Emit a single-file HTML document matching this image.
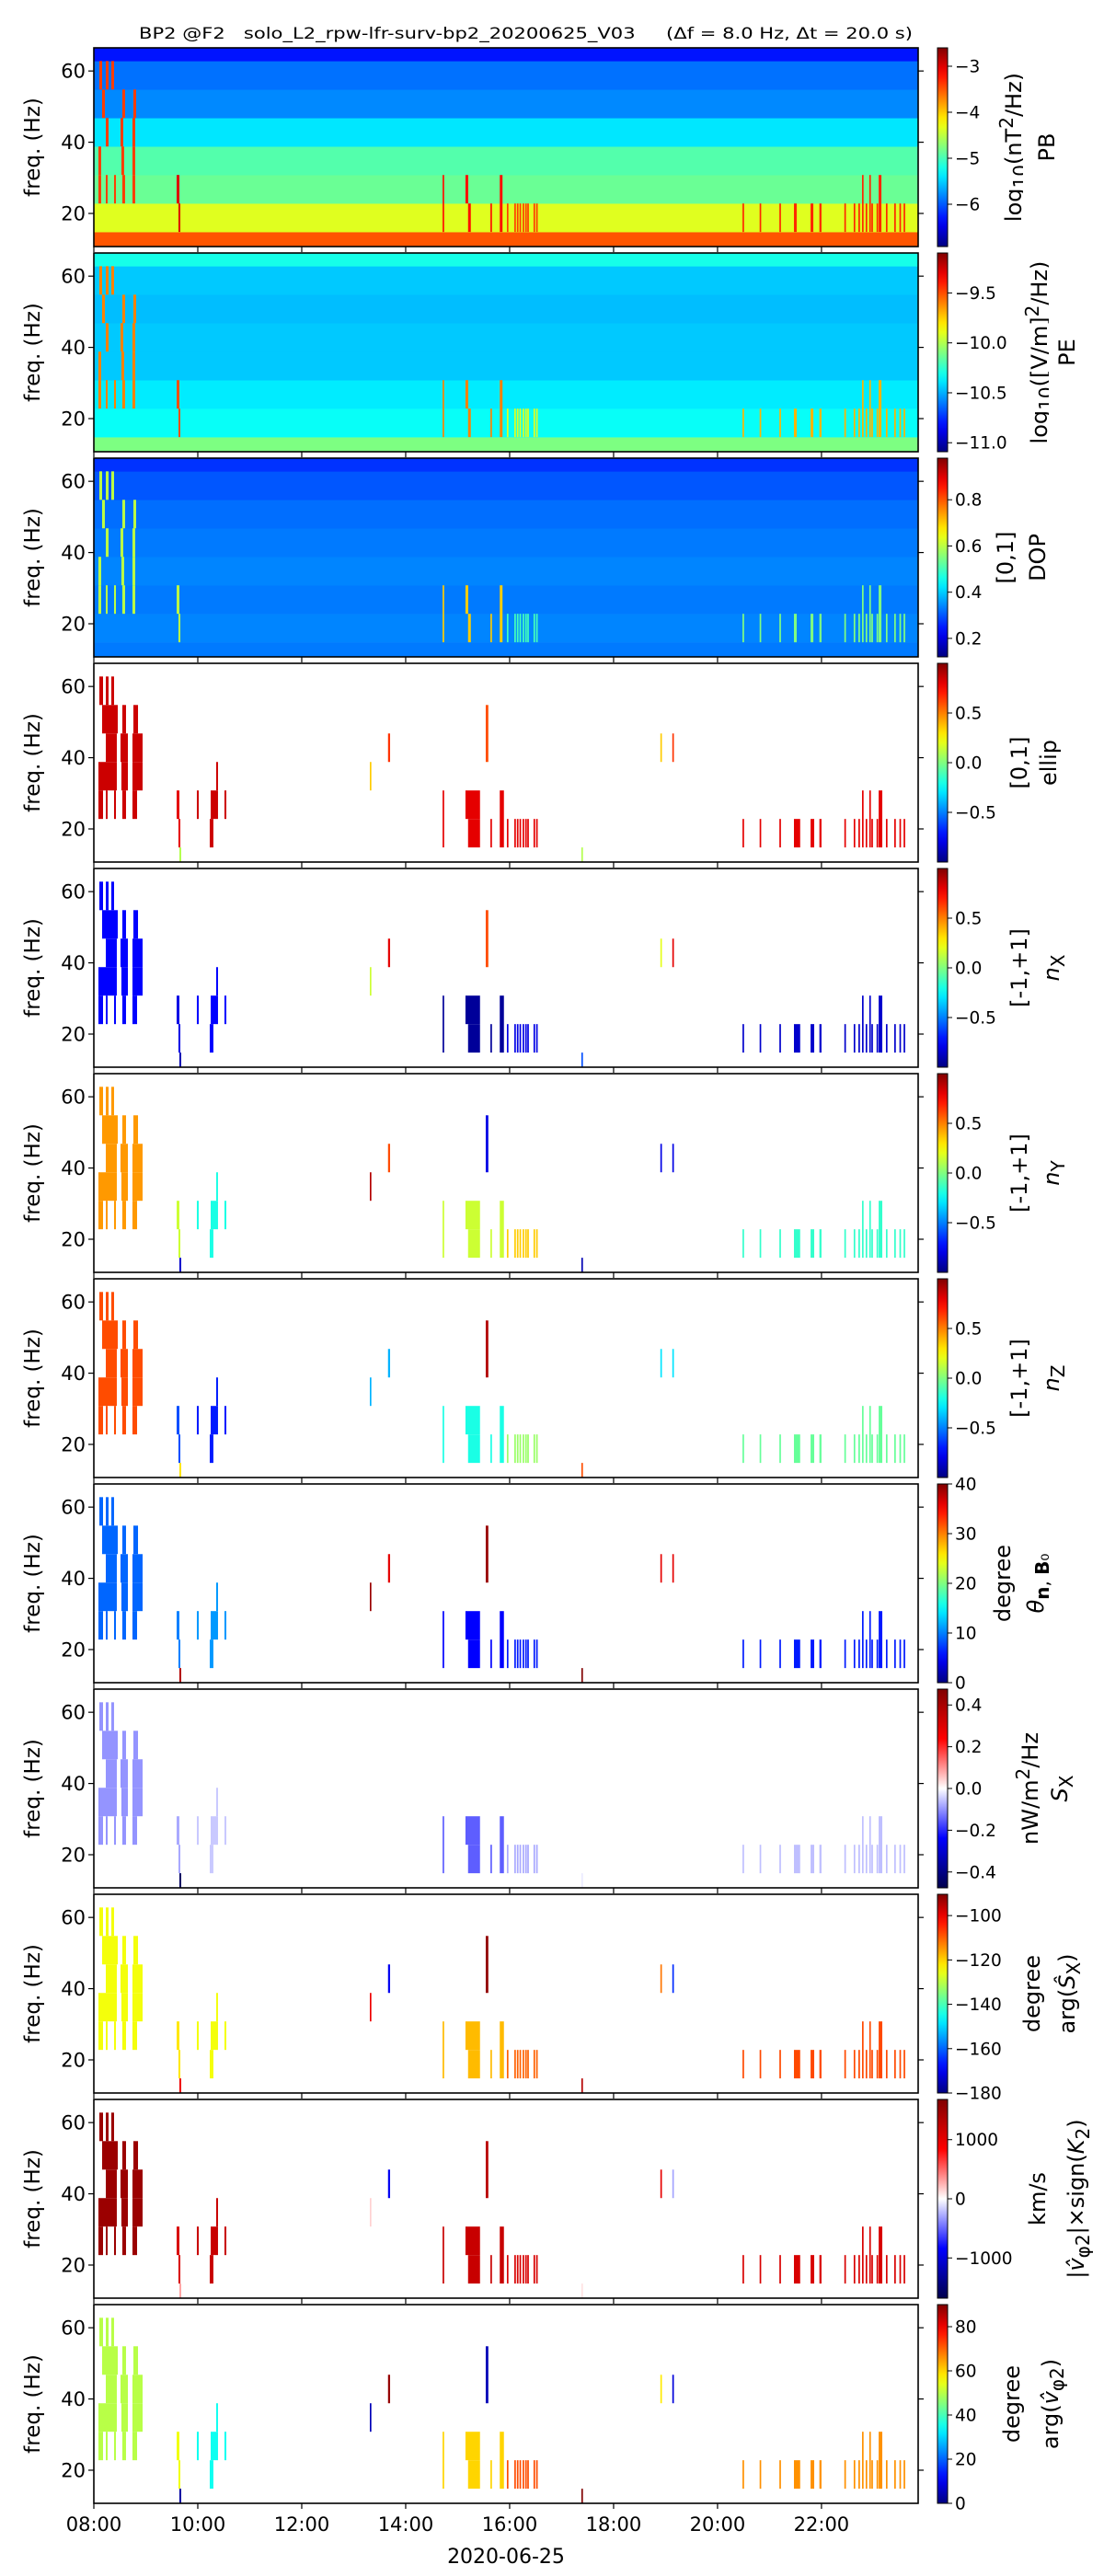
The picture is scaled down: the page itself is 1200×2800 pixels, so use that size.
<!DOCTYPE html>
<html><head><meta charset="utf-8"><style>
html,body{margin:0;padding:0;background:#fff;}
svg{display:block;font-family:"DejaVu Sans","Liberation Sans",sans-serif;}
</style></head><body>
<svg id="fig" width="1200" height="2800" viewBox="0 0 1200 2800" xmlns="http://www.w3.org/2000/svg">
<text x="151" y="42" font-size="17" textLength="841" lengthAdjust="spacingAndGlyphs" xml:space="preserve">BP2 @F2   solo_L2_rpw-lfr-surv-bp2_20200625_V03     (Δf = 8.0 Hz, Δt = 20.0 s)</text>
</svg>
<script>
// ---- data ----
const bandEdges = [10.7,14.8,22.8,30.8,38.8,46.8,54.8,62.8,66.5];
const hourTicks = [8,10,12,14,16,18,20,22];
const hourTickLabels = ["08:00","10:00","12:00","14:00","16:00","18:00","20:00","22:00"];
const freqTicks = [20,40,60];
const groups = ["A","B","B0","C","D1","D2","E","F","G","H","I1","I2","J"];
// sparse bars: start hour, end hour, low band, high band, group
const barT0 = [8.106,8.23,8.336, 8.159,8.548,8.761, 8.23,8.513,8.743, 8.088,8.53,8.743, 8.088,8.23,8.389,8.548,8.743,
 9.593,9.628,9.646, 9.982,10.354,10.248,10.23,10.513, 13.31,13.66,
 14.71,15.15,15.2,15.63,15.81, 15.54,
 15.947,16.09,16.14,16.19,16.25,16.30,16.34,16.46,16.51, 17.38, 18.90,19.13,
 20.48,20.81,21.19,21.47,21.79,21.96,22.44,22.62,22.71,22.78,22.85,22.92,22.96,23.06,23.10,23.24,23.40,23.50,23.58];
const barT1 = [8.177,8.283,8.389, 8.46,8.619,8.85, 8.442,8.655,8.938, 8.442,8.655,8.938, 8.177,8.265,8.425,8.619,8.832,
 9.646,9.664,9.681, 10.018,10.389,10.389,10.30,10.549, 13.34,13.70,
 14.74,15.43,15.43,15.66,15.89, 15.59,
 15.977,16.12,16.17,16.22,16.28,16.33,16.37,16.49,16.54, 17.41, 18.93,19.16,
 20.51,20.84,21.22,21.59,21.86,22.0,22.47,22.65,22.74,22.81,22.88,22.95,22.99,23.09,23.17,23.27,23.43,23.53,23.61];
const barLo = [6,6,6, 5,5,5, 4,4,4, 3,3,3, 2,2,2,2,2,
 2,1,0, 2,3,2,1,2, 3,4,
 1,2,1,1,1, 4,
 1,1,1,1,1,1,1,1,1, 0, 4,4,
 1,1,1,1,1,1,1,1,1,1,1,1,1,1,1,1,1,1,1];
const barHi = [6,6,6, 5,5,5, 4,4,4, 3,3,3, 2,2,2,2,2,
 2,1,0, 2,3,2,1,2, 3,4,
 2,2,1,1,2, 5,
 1,1,1,1,1,1,1,1,1, 0, 4,4,
 1,1,1,1,1,1,1,1,1,2,1,2,1,1,2,1,1,1,1];
const barGrp = ["A","A","A","A","A","A","A","A","A","A","A","A","A","A","A","A","A",
 "B","B","B0","C","C","C","C","C","D1","D2",
 "E","E","E","E","E","F",
 "G","G","G","G","G","G","G","G","G","H","I1","I2",
 "J","J","J","J","J","J","J","J","J","J","J","J","J","J","J","J","J","J","J"];
// per-panel group values (order = groups)
const ellipVals = [0.85,0.8,0.1,0.85,0.35,0.65,0.8,0.6,0.8,0.1,0.35,0.65,0.8];
const nxVals    = [-0.75,-0.8,-0.9,-0.75,0.15,0.8,-0.95,0.6,-0.8,-0.6,0.2,0.8,-0.85];
const nyVals    = [0.45,0.15,-0.85,-0.2,0.9,0.6,0.15,-0.8,0.35,-0.9,-0.8,-0.8,-0.15];
const nzVals    = [0.6,-0.6,0.3,-0.7,-0.4,-0.4,-0.2,0.9,0.05,0.6,-0.3,-0.3,-0.05];
const thetaVals = [9,10,38,11,39,36,5,39,6,40,36,36,6];
const sxVals    = [-0.1,-0.08,-0.45,-0.05,0,0,-0.15,0,-0.08,-0.02,0,0,-0.06];
const argSxVals = [-125,-122,-100,-125,-100,-170,-118,-92,-110,-95,-112,-165,-108];
const vVals     = [1500,1100,300,1200,150,-900,1200,1300,1100,100,1000,-300,1100];
const argVVals  = [50,55,3,35,5,88,60,5,72,90,58,8,66];
// dense panels: base level per band (bottom to top)
const pbBase  = [-3.5,-4.35,-4.85,-4.95,-5.4,-5.8,-5.9,-6.3];
const peBase  = [-10.1,-10.33,-10.38,-10.45,-10.45,-10.47,-10.45,-10.3];
const dopBase = [0.33,0.34,0.33,0.34,0.33,0.32,0.3,0.27];
const pbSpike  = [-3.4,-3.0,-3.0,-3.2,-3.2,-3.3,-3.2,-3.4,-3.4,-3.4,-3.5,-3.5,-3.3];
const peSpike  = [-9.6,-9.5,-10.0,-9.8,-10.2,-10.2,-9.6,-10.0,-9.9,-9.6,-10.2,-10.2,-9.7];
const dopSpike = [0.6,0.6,0.6,0.55,0.55,0.55,0.7,0.6,0.5,0.6,0.55,0.55,0.55];
// colour-bar ticks
const pbTicks=[-3,-4,-5,-6], peTicks=[-9.5,-10.0,-10.5,-11.0], dopTicks=[0.2,0.4,0.6,0.8],
 unitTicks=[-0.5,0.0,0.5], thetaTicks=[0,10,20,30,40], sxTicks=[-0.4,-0.2,0.0,0.2,0.4],
 argSxTicks=[-180,-160,-140,-120,-100], vTicks=[-1000,0,1000], argVTicks=[0,20,40,60,80];

// ---- geometry ----
const NS="http://www.w3.org/2000/svg";
const svg=document.getElementById('fig');
const X0=102,X1=998,H0=8,H1=23.86,PH=216;
const xs=h=>X0+(h-H0)/(H1-H0)*(X1-X0);
function el(tag,attrs,parent){const e=document.createElementNS(NS,tag);for(const k in attrs)e.setAttribute(k,attrs[k]);(parent||svg).appendChild(e);return e;}
function jet(t){t=Math.max(0,Math.min(1,t));
 const r=Math.max(0,Math.min(1,Math.min(4*t-1.5,-4*t+4.5)));
 const g=Math.max(0,Math.min(1,Math.min(4*t-0.5,-4*t+3.5)));
 const b=Math.max(0,Math.min(1,Math.min(4*t+0.5,-4*t+2.5)));
 return `rgb(${Math.round(r*255)},${Math.round(g*255)},${Math.round(b*255)})`;}
function seismic(t){t=Math.max(0,Math.min(1,t));const s=[[0,0,0,0.3],[0.25,0,0,1],[0.5,1,1,1],[0.75,1,0,0],[1,0.5,0,0]];
 for(let i=0;i<4;i++){if(t<=s[i+1][0]){const f=(t-s[i][0])/(s[i+1][0]-s[i][0]);const c=[1,2,3].map(j=>Math.round(255*(s[i][j]+f*(s[i+1][j]-s[i][j]))));return `rgb(${c})`;}}return 'rgb(128,0,0)';}

const panels=[
 {name:'pb',type:'dense',base:pbBase,spike:pbSpike,vmin:-6.92,vmax:-2.6,cmap:jet,ticks:pbTicks,dec:0,l1:'log<sub>10</sub>(nT<sup>2</sup>/Hz)',l2:'PB',lx:[1094,1138]},
 {name:'pe',type:'dense',base:peBase,spike:peSpike,vmin:-11.09,vmax:-9.1,cmap:jet,ticks:peTicks,dec:1,l1:'log<sub>10</sub>([V/m]<sup>2</sup>/Hz)',l2:'PE',lx:[1122,1160]},
 {name:'dop',type:'dense',base:dopBase,spike:dopSpike,vmin:0.12,vmax:0.98,cmap:jet,ticks:dopTicks,dec:1,l1:'[0,1]',l2:'DOP',lx:[1093,1128]},
 {name:'ellip',type:'sparse',vals:ellipVals,vmin:-1,vmax:1,cmap:jet,ticks:unitTicks,dec:1,l1:'[0,1]',l2:'ellip',lx:[1108,1140]},
 {name:'nx',type:'sparse',vals:nxVals,vmin:-1,vmax:1,cmap:jet,ticks:unitTicks,dec:1,l1:'[-1,+1]',l2:'<i>n</i><sub>X</sub>',lx:[1108,1143]},
 {name:'ny',type:'sparse',vals:nyVals,vmin:-1,vmax:1,cmap:jet,ticks:unitTicks,dec:1,l1:'[-1,+1]',l2:'<i>n</i><sub>Y</sub>',lx:[1108,1143]},
 {name:'nz',type:'sparse',vals:nzVals,vmin:-1,vmax:1,cmap:jet,ticks:unitTicks,dec:1,l1:'[-1,+1]',l2:'<i>n</i><sub>Z</sub>',lx:[1108,1143]},
 {name:'theta',type:'sparse',vals:thetaVals,vmin:0,vmax:40,cmap:jet,ticks:thetaTicks,dec:0,l1:'degree',l2:'<i>θ</i><sub><b>n</b>, <b>B</b>₀</sub>',lx:[1090,1126]},
 {name:'sx',type:'sparse',vals:sxVals,vmin:-0.476,vmax:0.476,cmap:seismic,ticks:sxTicks,dec:1,l1:'nW/m<sup>2</sup>/Hz',l2:'<i>S</i><sub>X</sub>',lx:[1112,1152]},
 {name:'argsx',type:'sparse',vals:argSxVals,vmin:-180,vmax:-90.4,cmap:jet,ticks:argSxTicks,dec:0,l1:'degree',l2:'arg(<i>Ŝ</i><sub>X</sub>)',lx:[1122,1160]},
 {name:'v',type:'sparse',vals:vVals,vmin:-1680,vmax:1680,cmap:seismic,ticks:vTicks,dec:0,l1:'km/s',l2:'|<i>v̂</i><sub>φ2</sub>|×sign(<i>K</i><sub>2</sub>)',lx:[1128,1170]},
 {name:'argv',type:'sparse',vals:argVVals,vmin:0,vmax:90,cmap:jet,ticks:argVTicks,dec:0,l1:'degree',l2:'arg(<i>v̂</i><sub>φ2</sub>)',lx:[1100,1142]}
];

panels.forEach((p,pi)=>{
 const top=52+pi*223, bot=top+PH;
 const fy=f=>top+(bandEdges[8]-f)/(bandEdges[8]-bandEdges[0])*PH;
 const col=v=>p.cmap((v-p.vmin)/(p.vmax-p.vmin));
 const g=el('g',{});
 
 
 if(p.type==='dense'){
  p.base.forEach((v,b)=>{
   const r=el('rect',{x:X0,y:fy(bandEdges[b+1]),width:X1-X0,height:fy(bandEdges[b])-fy(bandEdges[b+1])+0.3,fill:col(v)},g);
   
   
  });
  barT0.forEach((t0,i)=>{
   const gi=groups.indexOf(barGrp[i]);
   if(["A","B","E","G","J"].indexOf(barGrp[i])<0) return;
   const lo=barGrp[i]==='J'||barGrp[i]==='G'?1:barLo[i], hi=barHi[i];
   const w=Math.min(3,Math.max(1.5,xs(barT1[i])-xs(t0)));
   const r=el('rect',{x:xs(t0),y:fy(bandEdges[hi+1]),width:w,height:fy(bandEdges[lo])-fy(bandEdges[hi+1]),fill:col(p.spike[gi])},g);
   
   
  });
 } else {
  barT0.forEach((t0,i)=>{
   const gi=groups.indexOf(barGrp[i]);
   const r=el('rect',{x:xs(t0),y:fy(bandEdges[barHi[i]+1]),width:Math.max(1.6,xs(barT1[i])-xs(t0)),height:fy(bandEdges[barLo[i]])-fy(bandEdges[barHi[i]+1]),fill:col(p.vals[gi])},g);
   
   
  });
 }
 const fr=el('rect',{x:X0,y:top,width:X1-X0,height:PH,fill:'none',stroke:'#000','stroke-width':1.6});
 
 
 freqTicks.forEach(f=>{
  el('line',{x1:X0-6,x2:X0,y1:fy(f),y2:fy(f),stroke:'#000','stroke-width':1.2});
  el('line',{x1:X1,x2:X1+6,y1:fy(f),y2:fy(f),stroke:'#000','stroke-width':1.2});
  const t=el('text',{x:X0-9,y:fy(f)+7.5,'font-size':21,'text-anchor':'end'});
  
  
  t.textContent=f;
 });
 hourTicks.forEach(h=>{el('line',{x1:xs(h),x2:xs(h),y1:bot,y2:bot+6,stroke:'#000','stroke-width':1.2});});
 const yl=el('text',{x:0,y:0,'font-size':23,'text-anchor':'middle',transform:`translate(43,${top+PH/2}) rotate(-90)`});
 
 
 yl.textContent='freq. (Hz)';
 const gid='cg'+pi;
 const lg=el('linearGradient',{id:gid,x1:0,y1:1,x2:0,y2:0});
 for(let k=0;k<=20;k++) el('stop',{offset:k/20,'stop-color':p.cmap(k/20)},lg);
 const cb=el('rect',{x:1019,y:top,width:11,height:PH,fill:`url(#${gid})`,stroke:'#000','stroke-width':1});
 
 
 const cy=v=>bot-(v-p.vmin)/(p.vmax-p.vmin)*PH;
 p.ticks.forEach(v=>{
  el('line',{x1:1030,x2:1035,y1:cy(v),y2:cy(v),stroke:'#000','stroke-width':1});
  const t=el('text',{x:1038,y:cy(v)+6.5,'font-size':18.5});
  
  
  t.textContent=(v<0?'\u2212':'')+Math.abs(v).toFixed(p.dec);
 });
 [p.l1,p.l2].forEach((lab,li)=>{
  const fo=el('foreignObject',{x:0,y:0,width:260,height:34,transform:`translate(${p.lx[li]-16},${top+PH/2+130}) rotate(-90)`});
  const d=document.createElement('div');
  
  
  d.style.cssText='width:260px;height:34px;line-height:32px;text-align:center;font-family:"DejaVu Sans","Liberation Sans",sans-serif;font-size:24px;white-space:nowrap;';
  d.innerHTML=lab;
  fo.appendChild(d);
 });
});
hourTicks.forEach((h,i)=>{
 const t=el('text',{x:xs(h),y:2751,'font-size':21,'text-anchor':'middle'});
 
 
 t.textContent=hourTickLabels[i];
});
const xl=el('text',{x:550,y:2786,'font-size':22,'text-anchor':'middle'});


xl.textContent='2020-06-25';
</script>
</body></html>
